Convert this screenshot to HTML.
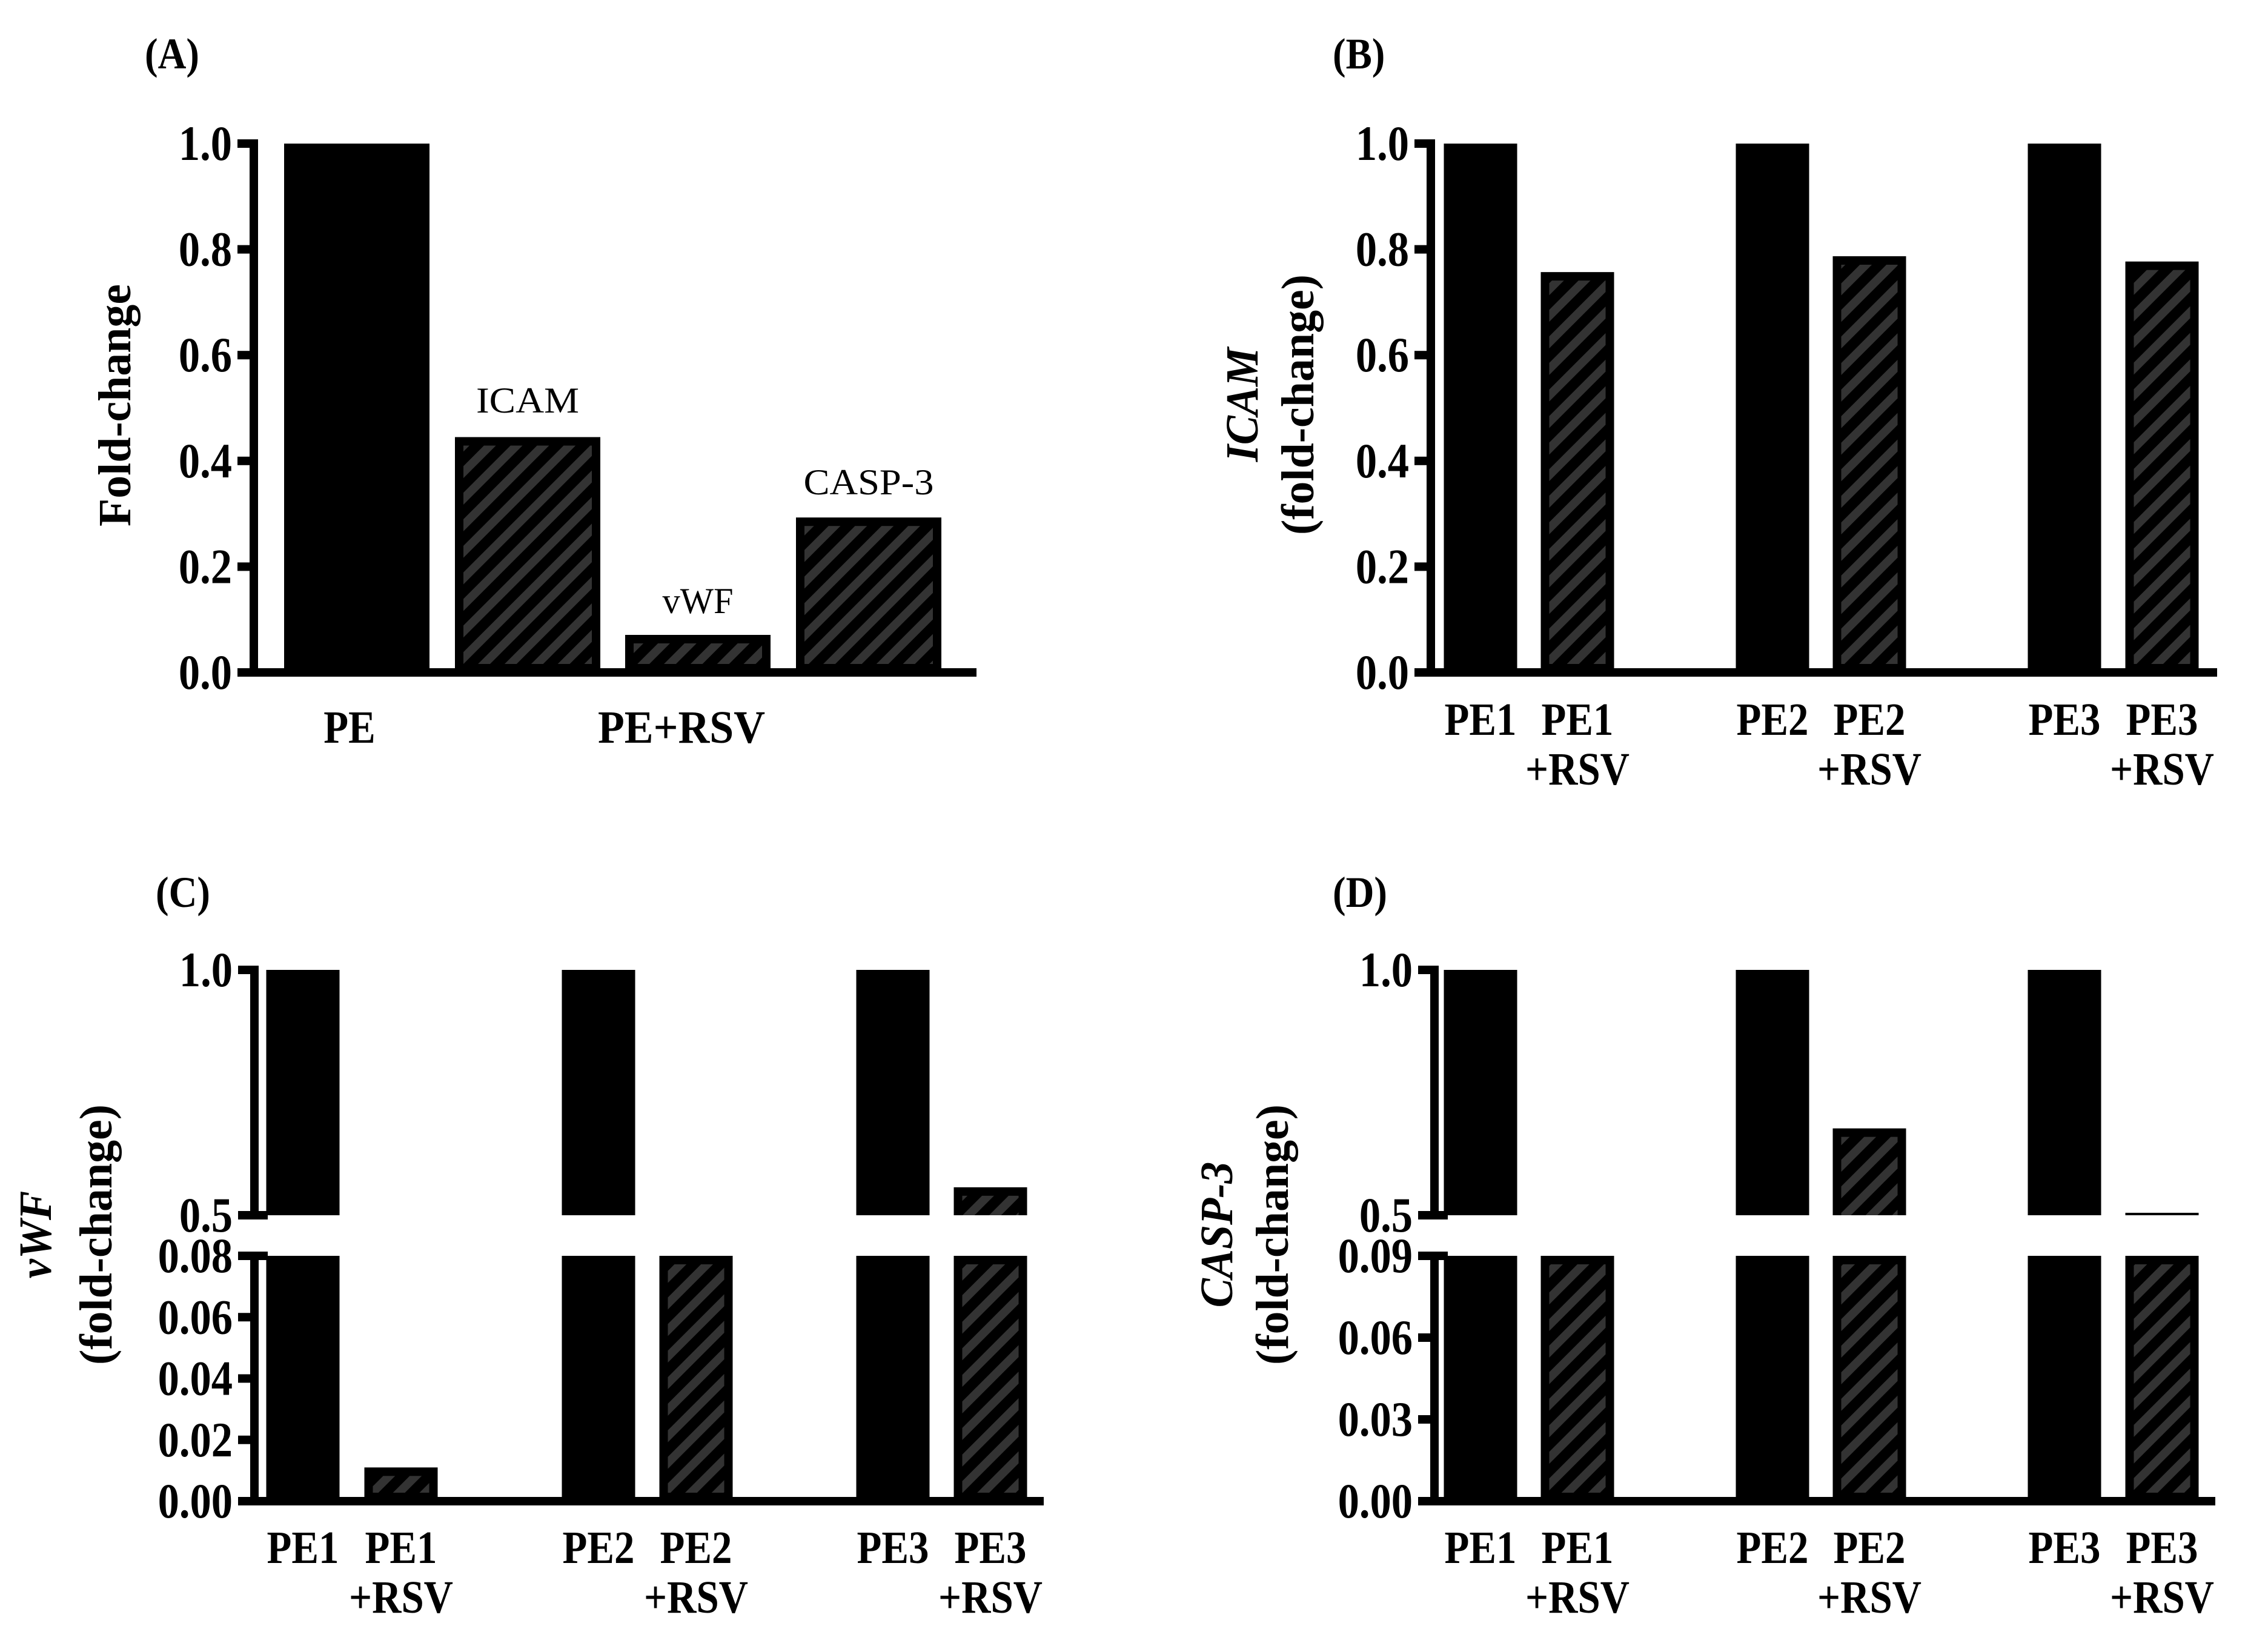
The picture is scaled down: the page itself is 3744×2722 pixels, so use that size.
<!DOCTYPE html>
<html><head><meta charset="utf-8"><style>
html,body{margin:0;padding:0;background:#fff}
svg{display:block}
text{font-family:"Liberation Serif",serif}
</style></head><body>
<svg id="fig" xmlns="http://www.w3.org/2000/svg" width="3744" height="2722" viewBox="0 0 3744 2722">
<defs>
<pattern id="hatch" patternUnits="userSpaceOnUse" width="31" height="31" patternTransform="rotate(45)">
<rect x="0" y="0" width="31" height="31" fill="#000"/>
<rect x="0" y="0" width="14" height="31" fill="#333"/>
</pattern>
</defs>
<g id="root"></g>
</svg>
<script>
// Panel A data
const aCategories = ["PE","ICAM","vWF","CASP-3"];
const aValues = [1.0, 0.445, 0.071, 0.293];
const aTicks = ["0.0","0.2","0.4","0.6","0.8","1.0"];
// Panel B data
const bCategories = ["PE1","PE1+RSV","PE2","PE2+RSV","PE3","PE3+RSV"];
const bValues = [1.0, 0.757, 1.0, 0.787, 1.0, 0.777];
const bTicks = ["0.0","0.2","0.4","0.6","0.8","1.0"];
// Panel C data (broken axis)
const cValues = [1.0, 0.011, 1.0, 0.30, 1.0, 0.557];
const cLowerTicks = ["0.00","0.02","0.04","0.06","0.08"];
const cUpperTicks = ["0.5","1.0"];
// Panel D data (broken axis)
const dValues = [1.0, 0.30, 1.0, 0.677, 1.0, 0.505];
const dLowerTicks = ["0.00","0.03","0.06","0.09"];
const dUpperTicks = ["0.5","1.0"];
const hatched = [false,true,false,true,false,true];

const NS="http://www.w3.org/2000/svg";
const root=document.getElementById('root');
function el(tag,attrs,parent){const e=document.createElementNS(NS,tag);for(const k in attrs)e.setAttribute(k,attrs[k]);(parent||root).appendChild(e);return e;}
function txt(s,x,y,size,opts,parent){
  opts=opts||{};
  const t=el('text',{x:x,y:y,'font-size':size,'font-weight':opts.w||'bold','text-anchor':opts.a||'middle'},parent);
  if(opts.i)t.setAttribute('font-style','italic');
  if(opts.tr)t.setAttribute('transform',opts.tr);
  t.textContent=s;
  if(opts.len){t.setAttribute('textLength',opts.len);t.setAttribute('lengthAdjust','spacingAndGlyphs');}
  else if(opts.sq){const L=t.getComputedTextLength();if(L>0){t.setAttribute('textLength',L*opts.sq);t.setAttribute('lengthAdjust','spacingAndGlyphs');}}
  return t;
}
function bar(x,w,yTop,yBot,h,parent,noBottomBorder){
  const g=el('g',{},parent);
  const r=el('rect',{x:x-w/2,y:yTop,width:w,height:Math.max(0,yBot-yTop),fill:'#000'},g);
  
  
  if(h){
    const b=14;
    const ih=yBot-yTop-b-(noBottomBorder?0:b);
    if(ih>0){el('rect',{x:x-w/2+b,y:yTop+b,width:w-2*b,height:ih,fill:'url(#hatch)'},g);}
  }
  return g;
}
const TICK=82, TSQ=0.86, XL=76, XSQ=0.88;

// ---------- Panel A ----------
(function(){
  const g=el('g',{});
  
  
  const ax=419, y0=1110, y1=237;
  const ys=v=>y0-(y0-y1)*v;
  const centers=[589,871,1152,1434];
  const ann=[null,{b:681,len:170},{b:1012,len:117},{b:816,len:215}];
  aValues.forEach((v,i)=>{
    const b=bar(centers[i],240,ys(v),y0,i>0,g);
    
    
    if(ann[i]){const t=txt(aCategories[i],centers[i],ann[i].b,60,{w:'normal',len:ann[i].len},g);
      
      }
  });
  el('rect',{x:ax-7,y:y1-7,width:14,height:y0-y1+14,fill:'#000'},g);
  el('rect',{x:ax-7,y:y0-7,width:1612-ax+7,height:14,fill:'#000'},g);
  aTicks.forEach(s=>{const v=parseFloat(s);const y=ys(v);
    el('rect',{x:ax-27,y:y-7,width:22,height:14,fill:'#000'},g);
    const t=txt(s,ax-36,y+27,TICK,{a:'end',sq:TSQ},g);
    
    });
  let t=txt('Fold-change',0,0,76,{tr:'translate(215,669) rotate(-90)',len:400},g);
  
  
  t=txt('PE',577,1226,XL,{sq:XSQ},g);
  
  
  t=txt('PE+RSV',1125,1226,XL,{len:276},g);
  
  
  t=txt('(A)',239,113,72,{a:'start',sq:0.9},g);
  
  
})();

function xLabels(g,centers,b1,b2){
  bCategories.forEach((c,i)=>{
    if(i%2===0){const t=txt(c,centers[i],b1,XL,{sq:XSQ},g);
      
      }
    else{let t=txt(c.replace('+RSV',''),centers[i],b1,XL,{sq:XSQ},g);
      
      
      t=txt('+RSV',centers[i],b2,XL,{sq:XSQ},g);
      
      }
  });
}

// ---------- Panel B ----------
(function(){
  const g=el('g',{});
  
  
  const ax=2362, y0=1110, y1=237;
  const ys=v=>y0-(y0-y1)*v;
  const centers=[2444,2604,2926,3086,3408,3569];
  bValues.forEach((v,i)=>{bar(centers[i],121,ys(v),y0,hatched[i],g);});
  el('rect',{x:ax-7,y:y1-7,width:14,height:y0-y1+14,fill:'#000'},g);
  el('rect',{x:ax-7,y:y0-7,width:3660-ax+7,height:14,fill:'#000'},g);
  bTicks.forEach(s=>{const y=ys(parseFloat(s));
    el('rect',{x:ax-27,y:y-7,width:22,height:14,fill:'#000'},g);
    const t=txt(s,ax-36,y+27,TICK,{a:'end',sq:TSQ},g);
    
    });
  let t=txt('ICAM',0,0,76,{i:true,tr:'translate(2076,668) rotate(-90)',sq:0.95},g);
  
  
  t=txt('(fold-change)',0,0,76,{tr:'translate(2168,668) rotate(-90)',len:430},g);
  
  
  xLabels(g,centers,1213,1295);
  t=txt('(B)',2200,113,72,{a:'start',sq:0.9},g);
  
  
})();

// ---------- Broken-axis panels ----------
function broken(name,ax,centers,values,lowerTicks,upperTicks,title,t1x,t2x,plabel,plx){
  const g=el('g',{});
  
  
  const lo0=2478, loTop=2073, up0=2006, up1=1601;
  const lowMax=parseFloat(lowerTicks[lowerTicks.length-1]);
  const ysL=v=>lo0-(lo0-loTop)*Math.min(v,lowMax)/lowMax;
  const ysU=v=>up0-(up0-up1)*(v-0.5)/0.5;
  values.forEach((v,i)=>{
    bar(centers[i],121,ysL(v),lo0,hatched[i],g);
    if(v>0.5){bar(centers[i],121,ysU(v),up0,hatched[i],g,true);}
  });
  el('rect',{x:ax-7,y:up1-7,width:14,height:up0-up1+14,fill:'#000'},g);
  el('rect',{x:ax-7,y:loTop-7,width:14,height:lo0-loTop+7,fill:'#000'},g);
  el('rect',{x:ax-7,y:lo0-7,width:centers[5]+88-ax+7,height:14,fill:'#000'},g);
  el('rect',{x:ax-27,y:up0-7,width:49,height:14,fill:'#000'},g);
  el('rect',{x:ax-27,y:loTop-7,width:49,height:14,fill:'#000'},g);
  lowerTicks.forEach(s=>{const y=ysL(parseFloat(s));
    el('rect',{x:ax-27,y:y-7,width:22,height:14,fill:'#000'},g);
    const t=txt(s,ax-36,y+27,TICK,{a:'end',sq:TSQ},g);
    
    });
  upperTicks.forEach(s=>{const y=ysU(parseFloat(s));
    el('rect',{x:ax-27,y:y-7,width:22,height:14,fill:'#000'},g);
    const t=txt(s,ax-36,y+27,TICK,{a:'end',sq:TSQ},g);
    
    });
  let t=txt(title,0,0,76,{i:true,tr:'translate('+t1x+',2038) rotate(-90)',sq:0.95},g);
  
  
  t=txt('(fold-change)',0,0,76,{tr:'translate('+t2x+',2038) rotate(-90)',len:430},g);
  
  
  xLabels(g,centers,2580,2662);
  t=txt(plabel,plx,1497,72,{a:'start',sq:0.9},g);
  
  
}
broken('panel-c',420,[500,662,988,1149,1474,1635],cValues,cLowerTicks,cUpperTicks,'vWF',84,184,'(C)',257);
broken('panel-d',2368,[2444,2604,2926,3086,3408,3569],dValues,dLowerTicks,dUpperTicks,'CASP-3',2034,2126,'(D)',2200);
</script>
</body></html>
